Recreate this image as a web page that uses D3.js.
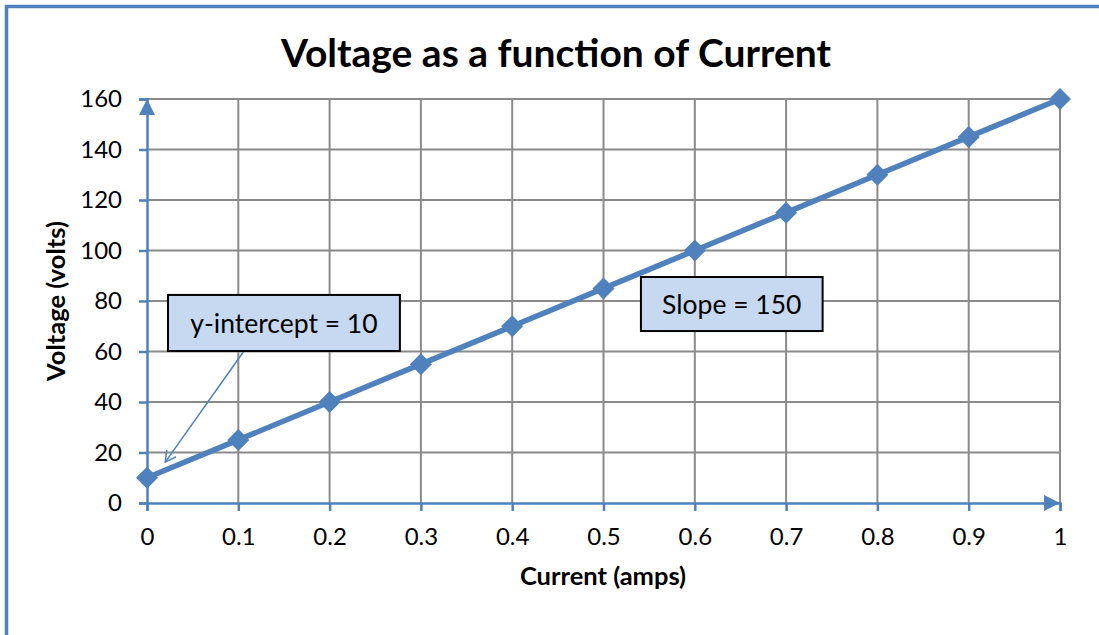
<!DOCTYPE html>
<html>
<head>
<meta charset="utf-8">
<script src="https://cdn.jsdelivr.net/npm/d3@7"></script>
<style>
  html, body { margin: 0; padding: 0; background: #fff; }
  svg { display: block; font-family: Lato, "Liberation Sans", sans-serif; }
</style>
</head>
<body>
<div id="chart"></div>
<script>
// Data
const currents = [0, 0.1, 0.2, 0.3, 0.4, 0.5, 0.6, 0.7, 0.8, 0.9, 1];
const voltages = [10, 25, 40, 55, 70, 85, 100, 115, 130, 145, 160];
const xTicks = [0, 0.1, 0.2, 0.3, 0.4, 0.5, 0.6, 0.7, 0.8, 0.9, 1];
const yTicks = [0, 20, 40, 60, 80, 100, 120, 140, 160];

const width = 1099, height = 635;
const blue = "#4f81bd";
const grid = "#8a8a8a";

const svg = d3.select("#chart").append("svg")
    .attr("width", width)
    .attr("height", height);

// Chart frame (only top/left visible in the picture)
svg.append("rect")
    .attr("x", 6.5).attr("y", 6.5)
    .attr("width", 1300).attr("height", 1000)
    .attr("fill", "none")
    .attr("stroke", blue)
    .attr("stroke-width", 3.5);

const x = d3.scaleLinear().domain([0, 1]).range([147, 1060]);
const y = d3.scaleLinear().domain([0, 160]).range([503, 99]);

// Gridlines
svg.append("g").selectAll("line")
    .data(yTicks.slice(1))
    .join("line")
    .attr("x1", x(0)).attr("x2", x(1))
    .attr("y1", d => y(d)).attr("y2", d => y(d))
    .attr("stroke", grid).attr("stroke-width", 2);

svg.append("g").selectAll("line")
    .data(xTicks.slice(1))
    .join("line")
    .attr("x1", d => x(d)).attr("x2", d => x(d))
    .attr("y1", y(0)).attr("y2", y(160))
    .attr("stroke", grid).attr("stroke-width", 2);

// Axes
const yAxis = svg.append("g")
    .attr("transform", `translate(${x(0)},0)`)
    .call(d3.axisLeft(y).tickValues(yTicks).tickSize(8).tickPadding(17));
const xAxis = svg.append("g")
    .attr("transform", `translate(0,${y(0)})`)
    .call(d3.axisBottom(x).tickValues(xTicks).tickSize(8).tickPadding(17)
        .tickFormat(d => d3.format("")(+d.toFixed(1))));

[yAxis, xAxis].forEach(ax => {
    ax.select(".domain").attr("stroke", blue).attr("stroke-width", 2.5);
    ax.selectAll(".tick line").attr("stroke", blue).attr("stroke-width", 2.5);
    ax.selectAll(".tick text")
        .attr("fill", "#000")
        .style("font-size", "24px")
        .style("font-family", "Lato, sans-serif");
});

// Axis arrowheads
svg.append("path")
    .attr("d", `M${x(0)},${y(160)} L${x(0) - 8},${y(160) + 16} L${x(0) + 8},${y(160) + 16} Z`)
    .attr("fill", blue);
svg.append("path")
    .attr("d", `M${x(1)},${y(0)} L${x(1) - 16},${y(0) - 8} L${x(1) - 16},${y(0) + 8} Z`)
    .attr("fill", blue);

// Series line
const points = currents.map((c, i) => [c, voltages[i]]);
svg.append("path")
    .datum(points)
    .attr("fill", "none")
    .attr("stroke", blue)
    .attr("stroke-width", 5.5)
    .attr("d", d3.line().x(d => x(d[0])).y(d => y(d[1])));

// Diamond markers
svg.append("g").selectAll("path")
    .data(points)
    .join("path")
    .attr("transform", d => `translate(${x(d[0])},${y(d[1])})`)
    .attr("d", "M0,-11 L11,0 L0,11 L-11,0 Z")
    .attr("fill", blue);

// Title and axis labels
svg.append("text")
    .attr("x", 556).attr("y", 67)
    .attr("text-anchor", "middle")
    .style("font-size", "39px").style("font-weight", "bold")
    .text("Voltage as a function of Current");

svg.append("text")
    .attr("x", 603).attr("y", 585)
    .attr("text-anchor", "middle")
    .style("font-size", "25.5px").style("font-weight", "bold")
    .text("Current (amps)");

svg.append("text")
    .attr("transform", "translate(65,301) rotate(-90)")
    .attr("text-anchor", "middle")
    .style("font-size", "25.5px").style("font-weight", "bold")
    .text("Voltage (volts)");

// Annotation: y-intercept callout with arrow
svg.append("defs").append("marker")
    .attr("id", "open-arrow")
    .attr("viewBox", "0 0 12 12")
    .attr("refX", 11).attr("refY", 6)
    .attr("markerWidth", 12).attr("markerHeight", 12)
    .attr("markerUnits", "userSpaceOnUse")
    .attr("orient", "auto")
    .append("path")
    .attr("d", "M0,0 L11,6 L0,12")
    .attr("fill", "none")
    .attr("stroke", blue)
    .attr("stroke-width", 1.5);

svg.append("line")
    .attr("x1", x(0.107)).attr("y1", y(60.6))
    .attr("x2", x(0.02)).attr("y2", y(16.2))
    .attr("stroke", blue)
    .attr("stroke-width", 1.5)
    .attr("marker-end", "url(#open-arrow)");

const callouts = [
    { text: "y-intercept = 10", x0: 0.023, x1: 0.277, y0: 82.4, y1: 60.2 },
    { text: "Slope = 150", x0: 0.541, x1: 0.740, y0: 89.5, y1: 68.1 }
];

const cg = svg.append("g").selectAll("g")
    .data(callouts)
    .join("g");
cg.append("rect")
    .attr("x", d => x(d.x0)).attr("y", d => y(d.y0))
    .attr("width", d => x(d.x1) - x(d.x0))
    .attr("height", d => y(d.y1) - y(d.y0))
    .attr("fill", "#c6d9f1")
    .attr("stroke", "#000")
    .attr("stroke-width", 2);
cg.append("text")
    .attr("x", d => (x(d.x0) + x(d.x1)) / 2)
    .attr("y", d => (y(d.y0) + y(d.y1)) / 2)
    .attr("dy", "0.36em")
    .attr("text-anchor", "middle")
    .style("font-size", "26.5px")
    .text(d => d.text);
</script>
</body>
</html>
